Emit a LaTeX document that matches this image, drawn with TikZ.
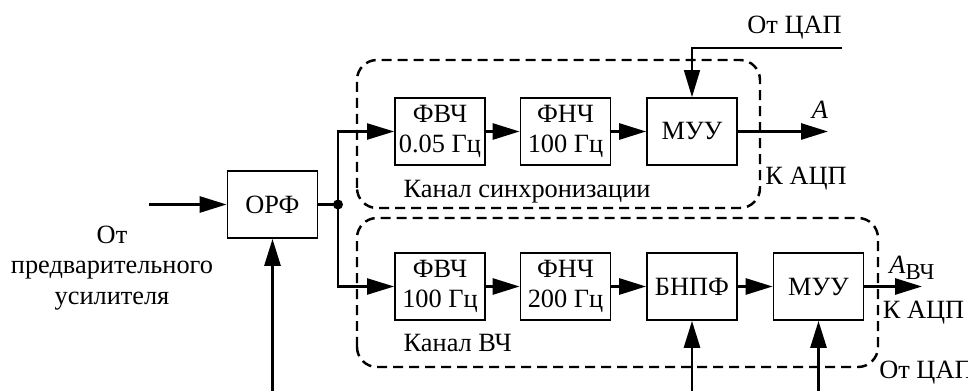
\documentclass[tikz,border=0pt]{standalone}
\usepackage{fontspec}
\setmainfont{Liberation Serif}
\usetikzlibrary{arrows.meta}

\begin{document}
\begin{tikzpicture}[
  every node/.style={font=\fontsize{15}{17.5}\selectfont},
  blk/.style={draw, line width=1pt, minimum width=1.8cm, minimum height=1.34cm, align=center, inner sep=1pt},
  sig/.style={-{Triangle[length=5.4mm,width=3.2mm]}, line width=1.6pt},
  chan/.style={line width=1.4pt, dash pattern=on 0.2cm off 0.12cm, rounded corners=0.4cm}]
  \useasboundingbox (0,0) rectangle (19.36,7.82);
  % channel frames
  \draw[chan] (7.14,3.66) rectangle (15.2,6.62);
  \draw[chan] (7.14,0.48) rectangle (17.56,3.46);
  \node[anchor=west] (synclbl) at (7.95,3.98) {Канал синхронизации};
  \node[anchor=west] (hflbl) at (7.95,0.96) {Канал ВЧ};
  % blocks
  \node[blk] (orf) at (5.45,3.73) {ОРФ};
  \node[blk] (hp1) at (8.8,5.19) {ФВЧ\\0.05 Гц};
  \node[blk] (lp1) at (11.31,5.19) {ФНЧ\\100 Гц};
  \node[blk] (amp1) at (13.84,5.19) {МУУ};
  \node[blk] (hp2) at (8.8,2.09) {ФВЧ\\100 Гц};
  \node[blk] (lp2) at (11.31,2.09) {ФНЧ\\200 Гц};
  \node[blk] (bnpf) at (13.84,2.09) {БНПФ};
  \node[blk] (amp2) at (16.37,2.09) {МУУ};
  % inputs and outputs
  \node[align=center] (src) at (2.24,2.46) {От\\предварительного\\усилителя};
  \coordinate (in) at (2.98,3.73);
  \coordinate (split) at (6.76,3.73);
  \coordinate (orfin) at (5.45,0);
  \coordinate (dac1) at (16.84,6.86);
  \coordinate (bnpfin) at (13.84,0);
  \coordinate (amp2in) at (16.37,0);
  \coordinate (out1) at (16.56,5.19);
  \coordinate (out2) at (18.44,2.09);
  \node[anchor=east, inner sep=0pt] (daclbl1) at (16.84,7.27) {От ЦАП};
  \node[inner sep=0pt] (a1) at (16.4,5.62) {\textit{A}};
  \node[anchor=west, inner sep=0pt] (adc1) at (15.3,4.24) {К АЦП};
  \node[anchor=west, inner sep=0pt] (a2) at (17.78,2.46) {\textit{A}\raisebox{-0.45ex}{\fontsize{13}{13}\selectfont ВЧ}};
  \node[anchor=west, inner sep=0pt] (adc2) at (17.65,1.56) {К АЦП};
  \node[anchor=west, inner sep=0pt] (daclbl2) at (17.58,0.36) {От ЦАП};
  % connections
  \draw[sig] (in) -- (orf);
  \draw[line width=1.6pt] (orf) -- (split);
  \fill (split) circle (0.1);
  \draw[sig, line width=1.2pt] (split) |- (hp1);
  \draw[sig, line width=1.2pt] (split) |- (hp2);
  \draw[sig] (orfin) -- (orf);
  \draw[sig] (hp1) -- (lp1);
  \draw[sig] (lp1) -- (amp1);
  \draw[sig] (amp1) -- (out1);
  \draw[sig, line width=0.9pt] (dac1) -| (amp1);
  \draw[sig] (hp2) -- (lp2);
  \draw[sig] (lp2) -- (bnpf);
  \draw[sig] (bnpf) -- (amp2);
  \draw[sig] (amp2) -- (out2);
  \draw[sig] (bnpfin) -- (bnpf);
  \draw[sig] (amp2in) -- (amp2);
\end{tikzpicture}
\end{document}
